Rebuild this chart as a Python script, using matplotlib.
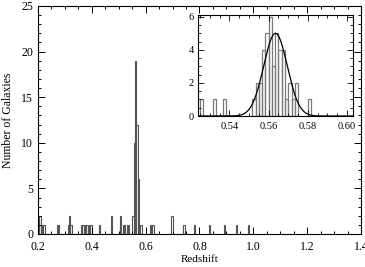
import numpy as np
import matplotlib
matplotlib.use("Agg")
import matplotlib.pyplot as plt
from matplotlib.ticker import MultipleLocator, FormatStrFormatter

plt.rcParams['font.family'] = ['Liberation Serif', 'DejaVu Serif']
plt.rcParams['font.size'] = 8.5

# main histogram: bin left edges (width 0.005) and galaxy counts
main_width = 0.005
main_left = [0.200, 0.205, 0.210, 0.215, 0.220,
             0.270, 0.275,
             0.310, 0.315, 0.320,
             0.360, 0.365, 0.375, 0.380, 0.390, 0.395,
             0.425, 0.470,
             0.505, 0.515, 0.520, 0.530, 0.535,
             0.550, 0.555, 0.560, 0.565, 0.570, 0.580,
             0.615, 0.620, 0.625,
             0.695, 0.740, 0.780, 0.835, 0.890, 0.935, 0.980]
main_counts = [2, 2, 1, 1, 1,
               1, 1,
               1, 2, 1,
               1, 1, 1, 1, 1, 1,
               1, 2,
               2, 1, 1, 1, 1,
               2, 10, 19, 12, 6, 1,
               1, 1, 1,
               2, 1, 1, 1, 1, 1, 1]

# inset: finer bins around the peak
inset_width = 0.005 / 3
inset_left = [0.52500, 0.53167, 0.53667,
              0.55167, 0.55333, 0.55500, 0.55667, 0.55833, 0.56000,
              0.56167, 0.56333, 0.56500, 0.56667, 0.56833, 0.57000,
              0.57167, 0.57333, 0.58000]
inset_counts = [1, 1, 1,
                1, 2, 2, 4, 5, 6,
                3, 5, 4, 4, 1, 2,
                1, 2, 1]

# gaussian fit to the peak
fit_amp = 5.0
fit_mean = 0.5635
fit_sigma = 0.006

fig = plt.figure(figsize=(3.65, 2.67), dpi=100)
ax = fig.add_axes([0.104, 0.1236, 0.885, 0.854])

ax.bar(main_left, main_counts, width=main_width, align='edge',
       fill=False, edgecolor='#555555', linewidth=0.8)
ax.set_xlim(0.2, 1.4)
ax.set_ylim(0, 25)
ax.xaxis.set_major_locator(MultipleLocator(0.2))
ax.xaxis.set_minor_locator(MultipleLocator(0.05))
ax.yaxis.set_major_locator(MultipleLocator(5))
ax.yaxis.set_minor_locator(MultipleLocator(1))
ax.xaxis.set_major_formatter(FormatStrFormatter('%.1f'))
ax.tick_params(which='both', direction='in', top=True, right=True, width=0.7)
ax.tick_params(which='major', length=5, pad=3.5)
ax.tick_params(axis='x', which='major', pad=5)
ax.tick_params(which='minor', length=2.5)
ax.set_xlabel("Redshift", fontsize=8, labelpad=1.5)
ax.set_ylabel("Number of Galaxies", fontsize=8.5, labelpad=5)
for s in ax.spines.values():
    s.set_linewidth(0.8)

# inset
ins = fig.add_axes([0.5425, 0.5655, 0.4245, 0.378])
ins.bar(inset_left, inset_counts, width=inset_width, align='edge',
        fill=False, edgecolor='#7a7a7a', linewidth=0.9)
zz = np.linspace(0.524, 0.603, 400)
ins.plot(zz, fit_amp * np.exp(-0.5 * ((zz - fit_mean) / fit_sigma) ** 2),
         color='black', linewidth=0.9)
ins.set_xlim(0.524, 0.603)
ins.set_ylim(0, 6.1)
ins.xaxis.set_major_locator(MultipleLocator(0.02))
ins.xaxis.set_minor_locator(MultipleLocator(0.005))
ins.yaxis.set_major_locator(MultipleLocator(2))
ins.yaxis.set_minor_locator(MultipleLocator(0.5))
ins.xaxis.set_major_formatter(FormatStrFormatter('%.2f'))
ins.tick_params(which='both', direction='in', top=True, right=True, width=0.6,
                labelsize=7.5)
ins.tick_params(which='major', length=4, pad=3)
ins.tick_params(axis='x', which='major', pad=4)
ins.tick_params(which='minor', length=2)
for s in ins.spines.values():
    s.set_linewidth(0.8)

fig.savefig("out.png", dpi=100)
